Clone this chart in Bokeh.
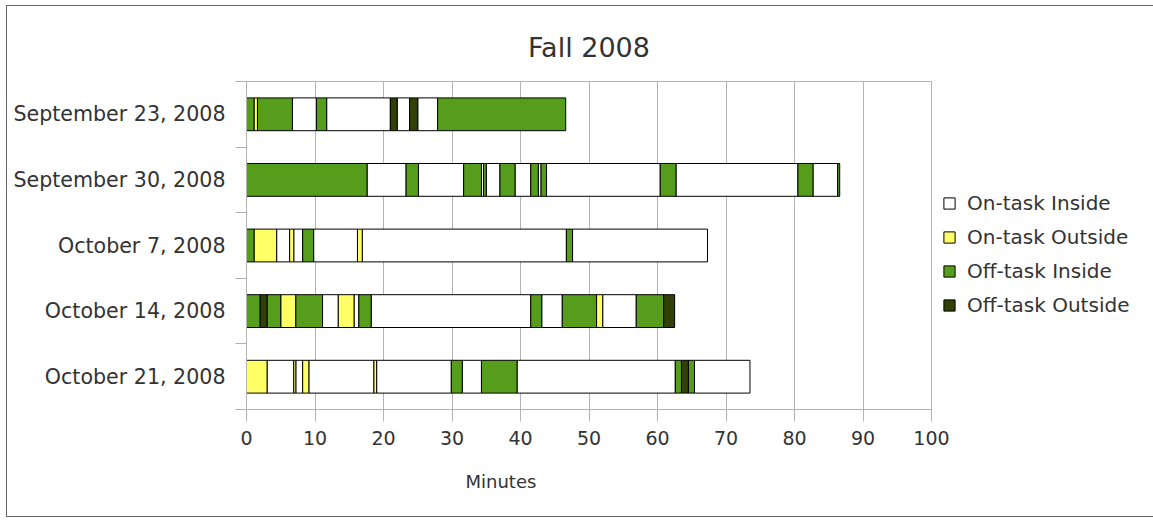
from bokeh.plotting import figure
from bokeh.models import Range1d, FixedTicker, ColumnDataSource, Legend, LegendItem, Title
from bokeh.embed import file_html
from bokeh.resources import INLINE

dates = ["September 23, 2008", "September 30, 2008", "October 7, 2008",
         "October 14, 2008", "October 21, 2008"]
categories = ["On-task Inside", "On-task Outside", "Off-task Inside", "Off-task Outside"]
colors = ["#ffffff", "#ffff66", "#579d1c", "#314004"]
x_ticks = [0, 10, 20, 30, 40, 50, 60, 70, 80, 90, 100]

# kind codes: 0 On-task Inside, 1 On-task Outside, 2 Off-task Inside, 3 Off-task Outside
sep23_kinds = [2, 1, 2, 0, 2, 0, 3, 0, 3, 0, 2]
sep23_minutes = [1.1, 0.5, 5.1, 3.5, 1.5, 9.3, 1.0, 1.8, 1.2, 2.9, 18.7]

sep30_kinds = [2, 0, 2, 0, 2, 0, 2, 0, 2, 0, 2, 0, 2, 0, 2, 0, 2, 0, 2]
sep30_minutes = [17.6, 5.7, 1.8, 6.6, 2.6, 0.3, 0.4, 2.0, 2.2, 2.3, 1.1, 0.4, 0.8,
                 16.6, 2.3, 17.8, 2.2, 3.6, 0.3]

oct07_kinds = [2, 1, 0, 1, 0, 2, 0, 1, 0, 2, 0]
oct07_minutes = [1.1, 3.3, 1.9, 0.6, 1.3, 1.6, 6.4, 0.7, 29.8, 0.9, 19.7]

oct14_kinds = [2, 3, 2, 1, 2, 0, 1, 0, 2, 0, 2, 0, 2, 1, 0, 2, 3]
oct14_minutes = [2.0, 1.0, 2.0, 2.2, 3.9, 2.3, 2.3, 0.7, 1.8, 23.3, 1.6, 3.0, 5.0,
                 0.9, 4.9, 4.0, 1.6]

oct21_kinds = [1, 0, 1, 0, 1, 0, 1, 0, 2, 0, 2, 0, 2, 3, 2, 0]
oct21_minutes = [3.0, 3.9, 0.3, 1.0, 0.9, 9.5, 0.4, 10.9, 1.6, 2.8, 5.2, 23.1, 0.9,
                 1.0, 0.9, 8.1]

rows = [(sep23_kinds, sep23_minutes), (sep30_kinds, sep30_minutes),
        (oct07_kinds, oct07_minutes), (oct14_kinds, oct14_minutes),
        (oct21_kinds, oct21_minutes)]

data = {k: {"y": [], "left": [], "right": []} for k in range(4)}
for i, (kinds, mins) in enumerate(rows):
    start = 0.0
    for k, m in zip(kinds, mins):
        data[k]["y"].append(i + 0.5)
        data[k]["left"].append(start)
        data[k]["right"].append(start + m)
        start += m

FONT = "DejaVu Sans"
TXT = "#333333"
GRID = "#b3b3b3"

p = figure(frame_width=685, frame_height=328, x_range=Range1d(0, 100), y_range=Range1d(5, 0),
           output_backend="svg", toolbar_location=None,
           min_border_left=239, min_border_right=215, min_border_top=75,
           min_border_bottom=107)
p.styles = {"border": "1px solid #666666", "margin-left": "6px", "margin-top": "5px"}

p.title.text = "Fall 2008"
p.title.align = "center"
p.title.text_font = FONT
p.title.text_font_size = "27px"
p.title.text_font_style = "normal"
p.title.text_color = TXT
p.title.standoff = 38

renderers = []
for k in range(4):
    src = ColumnDataSource(data[k])
    r = p.hbar(y="y", left="left", right="right", height=0.5, source=src,
               fill_color=colors[k], line_color="#000000", line_width=1)
    renderers.append(r)

# x axis
xa = p.xaxis[0]
xa.ticker = FixedTicker(ticks=x_ticks)
xa.major_tick_out = 12
xa.major_tick_in = 0
xa.minor_tick_line_color = None
xa.axis_line_color = GRID
xa.major_tick_line_color = GRID
xa.major_label_text_font = FONT
xa.major_label_text_font_size = "19px"
xa.major_label_text_color = TXT
xa.major_label_standoff = 9

# y axis
ya = p.yaxis[0]
ya.ticker = FixedTicker(ticks=[i + 0.5 for i in range(len(dates))],
                        minor_ticks=[i for i in range(len(dates) + 1)])
ya.major_label_overrides = {i + 0.5: d for i, d in enumerate(dates)}
ya.major_tick_line_color = None
ya.major_tick_out = 11
ya.major_tick_in = 0
ya.minor_tick_out = 11
ya.minor_tick_in = 0
ya.minor_tick_line_color = GRID
ya.axis_line_color = GRID
ya.major_label_text_font = FONT
ya.major_label_text_font_size = "20.6px"
ya.major_label_text_color = TXT
ya.major_label_standoff = 10

p.ygrid.visible = False
p.xgrid.grid_line_color = GRID
p.outline_line_color = GRID

legend = Legend(items=[LegendItem(label=categories[k], renderers=[renderers[k]]) for k in range(4)],
                location=(11, 92), padding=10,
                border_line_color=None, background_fill_alpha=0,
                label_text_font=FONT, label_text_font_size="20px", label_text_color=TXT,
                glyph_width=14, glyph_height=14, label_height=24, spacing=10,
                label_standoff=11)
p.add_layout(legend, "right")

p.add_layout(Title(text="Minutes", align="left", offset=219, vertical_align="bottom",
                   text_font=FONT, text_font_size="18px", text_font_style="normal",
                   text_color=TXT, standoff=42), "below")

open("out.html", "w").write(file_html(p, INLINE))
